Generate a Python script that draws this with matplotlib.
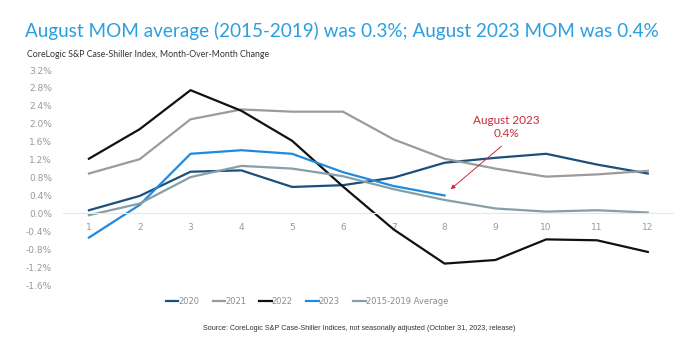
import matplotlib.pyplot as plt
from matplotlib.ticker import FuncFormatter, MultipleLocator

# Month-over-month change (%) by calendar month
months = list(range(1, 13))
mom_2020 = [0.07, 0.39, 0.93, 0.96, 0.59, 0.63, 0.80, 1.13, 1.24, 1.33, 1.09, 0.89]
mom_2021 = [0.89, 1.21, 2.10, 2.32, 2.27, 2.27, 1.65, 1.22, 1.00, 0.82, 0.87, 0.95]
mom_2022 = [1.22, 1.88, 2.75, 2.29, 1.62, 0.60, -0.36, -1.12, -1.04, -0.58, -0.60, -0.86]
mom_2023 = [-0.54, 0.19, 1.33, 1.41, 1.33, 0.92, 0.61, 0.40]
mom_avg = [-0.04, 0.22, 0.81, 1.06, 1.00, 0.83, 0.54, 0.30, 0.11, 0.04, 0.07, 0.02]

series = [
    ("2020", mom_2020, "#1b4f7c"),
    ("2021", mom_2021, "#9b9b9b"),
    ("2022", mom_2022, "#111111"),
    ("2023", mom_2023, "#1f8ae0"),
    ("2015-2019 Average", mom_avg, "#85a0a6"),
]

fig = plt.figure(figsize=(7, 3.39), dpi=100)
ax = fig.add_axes([0.09, 0.159, 0.871, 0.6345])

for label, values, colour in series:
    ax.plot(months[: len(values)], values, color=colour, linewidth=1.6, label=label)

ax.set_xlim(0.49, 12.49)
ax.set_ylim(-1.6, 3.2)
ax.yaxis.set_major_locator(MultipleLocator(0.4))
ax.yaxis.set_major_formatter(FuncFormatter(lambda v, _: f"{v:.1f}%"))
ax.set_xticks(months)

for side in ("top", "right", "left"):
    ax.spines[side].set_visible(False)
ax.spines["bottom"].set_position(("data", 0))
ax.spines["bottom"].set_color("#e6e6e6")
ax.tick_params(axis="both", length=0, labelsize=6.5, labelcolor="#999999")
ax.tick_params(axis="x", pad=7)
ax.tick_params(axis="y", pad=8)

# Callout for the latest month
ax.text(9.22, 1.93, "August 2023\n0.4%", color="#c62d3a", fontsize=8.5,
        ha="center", va="center", linespacing=1.15, family="Lato")
ax.annotate("", xy=(8.12, 0.54), xytext=(9.12, 1.5),
            arrowprops=dict(arrowstyle="-|>", color="#c62d3a", lw=0.7,
                            mutation_scale=6, shrinkA=0, shrinkB=0))

fig.text(0.036, 0.91, "August MOM average (2015-2019) was 0.3%; August 2023 MOM was 0.4%",
         color="#2a9fe0", fontsize=13.55, family="Lato", va="center")
fig.text(0.039, 0.84, "CoreLogic S&P Case-Shiller Index, Month-Over-Month Change",
         color="#333333", fontsize=6.3, family="Lato", va="center")

leg = ax.legend(loc="center", bbox_to_anchor=(0.40, -0.074), ncol=5, frameon=False,
                fontsize=6, handlelength=1.5, handletextpad=0.0, columnspacing=1.6,
                labelcolor="#8c8c8c")
for line in leg.get_lines():
    line.set_linewidth(1.6)

fig.text(0.513, 0.03, "Source: CoreLogic S&P Case-Shiller Indices, not seasonally adjusted (October 31, 2023, release)",
         color="#333333", fontsize=5.2, family="Liberation Sans", ha="center", va="center")

fig.savefig("out.png", dpi=100)
